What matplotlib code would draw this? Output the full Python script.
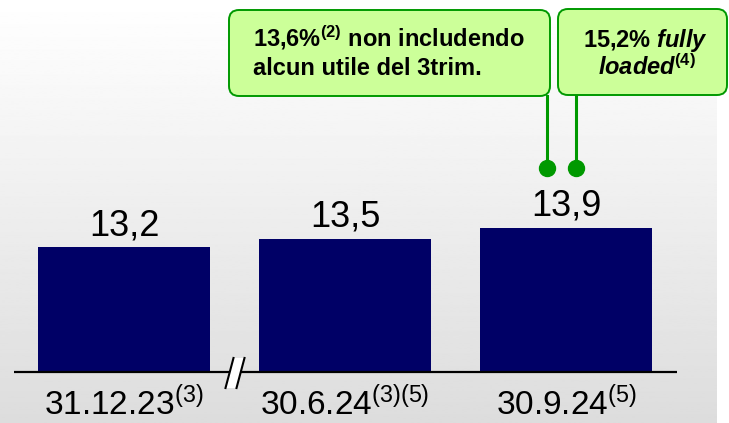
import numpy as np
import matplotlib
matplotlib.use("Agg")
import matplotlib.pyplot as plt
from matplotlib.patches import FancyBboxPatch, Polygon
from matplotlib import transforms

plt.rcParams['font.family'] = ['Liberation Sans', 'DejaVu Sans']
plt.rcParams['mathtext.fontset'] = 'custom'
plt.rcParams['mathtext.rm'] = 'Liberation Sans'
plt.rcParams['mathtext.it'] = 'Liberation Sans:italic'
plt.rcParams['mathtext.bf'] = 'Liberation Sans:bold'
plt.rcParams['mathtext.bfit'] = 'Liberation Sans:italic:bold'

# dati
dates = ["31.12.23", "30.6.24", "30.9.24"]
notes = ["(3)", "(3)(5)", "(5)"]
values = [13.2, 13.5, 13.9]
value_labels = ["13,2", "13,5", "13,9"]

W, H = 729, 423
fig = plt.figure(figsize=(W / 100, H / 100), dpi=100)

# sfondo sfumato (pixel)
bg = fig.add_axes([0, 0, 1, 1], zorder=0)
grad = np.linspace(1.0, 0.865, 256).reshape(-1, 1)
bg.imshow(grad, cmap='gray', vmin=0, vmax=1, aspect='auto', extent=[0, 717, H, 0])
bg.set_xlim(0, W)
bg.set_ylim(H, 0)
bg.axis('off')

# grafico a barre
base = 8.655
px_x = 221.0   # pixel per categoria
px_y = 27.5    # pixel per unita'
ax = fig.add_axes([0, 0, 1, 1], zorder=1)
ax.patch.set_alpha(0)
x0 = -124 / px_x
ax.set_xlim(x0, x0 + W / px_x)
y0 = base - 51 / px_y
ax.set_ylim(y0, y0 + H / px_y)
ax.axis('off')

x = np.arange(len(values))
ax.bar(x, np.array(values) - base, bottom=base, width=172 / px_x, color='#000066')
ax.plot([-0.5, 2.5], [base, base], color='black', lw=1.6, solid_capstyle='butt')

for xi, v, lab in zip(x, values, value_labels):
    ax.annotate(lab, xy=(xi, v), xytext=(0, 8.5), textcoords='offset points',
                ha='center', va='baseline', fontsize=26)

for xi, d, n in zip(x, dates, notes):
    ax.annotate(d + r"$^{%s}$" % n, xy=(xi, base), xytext=(0, -31),
                textcoords='offset points', ha='center', va='baseline', fontsize=24)

# simbolo di interruzione asse
brk = fig.dpi_scale_trans + transforms.ScaledTranslation(0.5, base, ax.transData)
ax.add_patch(Polygon(np.array([[-9, -16], [-1, 14], [10, 14], [2, -16]]) / 100,
                     closed=True, facecolor='white', edgecolor='none',
                     transform=brk, zorder=3))
for dx in (-9, 2):
    ax.plot(np.array([dx, dx + 8]) / 100, np.array([-16, 14]) / 100,
            color='black', lw=1.5, transform=brk, zorder=4)

# riquadri di commento (pixel)
ov = fig.add_axes([0, 0, 1, 1], zorder=2)
ov.patch.set_alpha(0)
ov.set_xlim(0, W)
ov.set_ylim(H, 0)
ov.axis('off')

green = '#009900'
fill = '#ccff99'
for bx, by, bw, bh in [(229, 10, 321, 86), (558, 9, 169, 86)]:
    ov.add_patch(FancyBboxPatch((bx + 10, by + 10), bw - 20, bh - 20,
                                boxstyle='round,pad=10', facecolor=fill,
                                edgecolor=green, lw=1.4, zorder=3))

ov.text(253, 47, r"13,6%$^{\mathbf{(2)}}$ non includendo", fontsize=17,
        fontweight='bold', ha='left', va='baseline', zorder=4)
ov.text(253, 75, "alcun utile del 3trim.", fontsize=17,
        fontweight='bold', ha='left', va='baseline', zorder=4)
ov.text(646, 47, r"15,2% $\mathbfit{fully}$", fontsize=17,
        fontweight='bold', ha='center', va='baseline', zorder=4)
ov.text(647, 75, r"$\mathbfit{loaded}^{\mathbf{(4)}}$", fontsize=17,
        fontweight='bold', ha='center', va='baseline', zorder=4)

for cx, top in [(547, 96), (576, 95)]:
    ov.plot([cx, cx], [top, 167], color=green, lw=2.2, zorder=2)
    ov.plot(cx, 168, 'o', color=green, markersize=11.5, zorder=2)

fig.savefig("out.png", dpi=100)
